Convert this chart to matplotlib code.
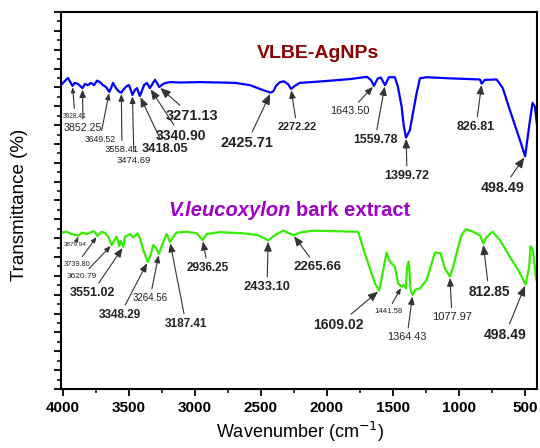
import numpy as np
import matplotlib
matplotlib.use('Agg')
import matplotlib.pyplot as plt
from matplotlib.ticker import MultipleLocator

plt.rcParams['font.family'] = ['Liberation Sans', 'DejaVu Sans']

# FTIR traces (wavenumber in cm-1, transmittance in arbitrary %)
agnp_wn = [4005, 3977, 3962, 3928, 3912, 3886, 3852, 3833, 3811, 3788, 3765, 3742, 3720,
           3697, 3674, 3649, 3636, 3621, 3598, 3576, 3558, 3538, 3515, 3500, 3486, 3474,
           3455, 3439, 3418, 3405, 3386, 3364, 3341, 3318, 3303, 3288, 3271, 3242, 3220,
           3189, 3114, 2962, 2811, 2697, 2583, 2523, 2485, 2426, 2405, 2386, 2356, 2326,
           2295, 2272, 2235, 2205, 2076, 1826, 1697, 1667, 1644, 1614, 1591, 1560, 1530,
           1485, 1462, 1434, 1417, 1400, 1371, 1348, 1320, 1295, 1245, 1068, 841, 827,
           803, 714, 667, 614, 563, 525, 498, 464, 442, 424, 402]
agnp_t = [81.0, 82.0, 82.5, 80.4, 81.2, 80.9, 79.8, 80.9, 80.6, 81.2, 80.6, 81.8, 81.4,
          80.6, 80.1, 78.8, 79.8, 81.2, 79.8, 78.9, 78.6, 79.6, 80.4, 80.6, 79.3, 78.0,
          79.3, 79.8, 77.7, 78.8, 80.6, 81.2, 79.8, 81.2, 82.0, 81.2, 80.1, 80.9, 81.2,
          81.4, 81.3, 81.4, 81.3, 81.2, 80.6, 79.8, 79.3, 78.6, 79.0, 80.4, 81.4, 81.6,
          80.9, 79.6, 80.6, 81.2, 81.5, 82.2, 82.8, 82.0, 80.4, 82.4, 82.6, 80.6, 82.7,
          82.7, 80.2, 74.9, 69.6, 66.7, 68.7, 73.2, 78.5, 82.4, 82.7, 82.4, 82.1, 81.0,
          82.0, 82.1, 79.8, 74.0, 68.7, 64.7, 61.7, 70.6, 75.9, 74.9, 68.2]

bark_wn = [4005, 3972, 3934, 3880, 3858, 3818, 3770, 3752, 3740, 3707, 3682, 3657, 3631,
           3614, 3593, 3573, 3561, 3543, 3530, 3492, 3467, 3437, 3417, 3392, 3358, 3336,
           3316, 3295, 3273, 3245, 3214, 3189, 3164, 3139, 3063, 2987, 2942, 2911, 2811,
           2634, 2520, 2445, 2394, 2331, 2255, 2205, 2104, 1763, 1725, 1687, 1636, 1604,
           1573, 1548, 1523, 1485, 1460, 1434, 1417, 1402, 1392, 1379, 1366, 1351, 1333,
           1295, 1245, 1207, 1182, 1139, 1106, 1068, 1043, 1005, 980, 947, 892, 841, 816,
           795, 745, 689, 614, 551, 513, 495, 467, 457, 439, 417, 402]
bark_t = [41.5, 41.7, 41.1, 40.7, 41.5, 41.1, 41.9, 41.4, 40.6, 41.7, 41.4, 40.4, 38.2,
          39.3, 40.4, 37.9, 39.3, 37.7, 40.4, 41.1, 40.2, 41.3, 40.0, 36.9, 33.7, 35.5,
          38.2, 37.4, 35.8, 38.6, 41.1, 39.0, 40.4, 41.5, 41.7, 41.3, 39.5, 41.1, 41.6,
          41.3, 40.8, 39.4, 40.8, 42.0, 40.8, 41.5, 42.0, 41.7, 37.3, 33.3, 28.0, 26.1,
          31.6, 36.2, 33.8, 32.4, 28.0, 27.1, 27.6, 26.7, 32.4, 33.8, 26.3, 24.9, 26.3,
          26.7, 28.9, 33.2, 36.2, 36.0, 32.0, 29.8, 32.4, 37.7, 40.8, 42.4, 41.7, 40.8, 38.6,
          40.1, 41.7, 39.5, 35.1, 31.6, 29.1, 27.7, 32.4, 37.9, 36.9, 29.8, 27.6]

agnp_peaks = ['3928.41', '3852.25', '3649.52', '3558.41', '3474.69', '3418.05', '3340.90',
              '3271.13', '2425.71', '2272.22', '1643.50', '1559.78', '1399.72', '826.81',
              '498.49']
bark_peaks = ['3879.94', '3739.80', '3620.79', '3551.02', '3348.29', '3264.56', '3187.41',
              '2936.25', '2433.10', '2265.66', '1609.02', '1441.58', '1364.43', '1077.97',
              '812.85', '498.49']

# label placement (figure pixels from top-left) and font size / weight
agnp_layout = [(75, 116, 4.8, 'normal'), (83, 128, 7.7, 'normal'), (100, 139, 6.2, 'normal'),
               (122, 149, 6.8, 'normal'), (134, 160, 6.8, 'normal'), (165, 149, 9.3, 'bold'),
               (181, 136, 10, 'bold'), (192, 116, 10.5, 'bold'), (247, 143, 10.5, 'bold'),
               (297, 127, 7.8, 'bold'), (350, 111, 7.8, 'normal'), (375, 140, 8.8, 'bold'),
               (407, 176, 9, 'bold'), (476, 127, 9, 'bold'), (503, 188, 10.3, 'bold')]
bark_layout = [(75, 244, 4.6, 'normal'), (77, 264, 5.3, 'normal'), (82, 276, 6, 'normal'),
               (92, 293, 9, 'bold'), (120, 315, 8.5, 'bold'), (150, 298, 7, 'normal'),
               (186, 324, 8.5, 'bold'), (208, 268, 8.5, 'bold'), (267, 287, 9.3, 'bold'),
               (317, 267, 9.5, 'bold'), (338, 325, 10, 'bold'), (388, 311, 5.6, 'normal'),
               (407, 337, 7.8, 'normal'), (452, 317, 8, 'normal'), (489, 292, 9.8, 'bold'),
               (505, 335, 10, 'bold')]

fig = plt.figure(figsize=(5.4, 4.48), dpi=100)
ax = fig.add_axes([61 / 540, 59 / 448, 476 / 540, 377 / 448])

ax.plot(agnp_wn, agnp_t, color='#0000ff', lw=1.6)
ax.plot(bark_wn, bark_t, color='#33ee00', lw=1.6)

ax.set_xlim(4015, 408)
ax.set_ylim(0, 100)
ax.xaxis.set_major_locator(MultipleLocator(500))
ax.xaxis.set_minor_locator(MultipleLocator(250))
ax.yaxis.set_major_locator(MultipleLocator(5))
ax.yaxis.set_minor_locator(MultipleLocator(2.5))
ax.tick_params(axis='both', which='major', direction='out', length=5, width=1.3)
ax.tick_params(axis='both', which='minor', direction='out', length=3, width=1.1)
ax.tick_params(axis='y', labelleft=False)
for lab in ax.get_xticklabels():
    lab.set_fontsize(11)
    lab.set_fontweight('bold')
for s in ax.spines.values():
    s.set_linewidth(1.5)


def annotate_peaks(wn, t, peaks, layout):
    wn = np.array(wn, dtype=float)
    t = np.array(t, dtype=float)
    for lab, (px, py, fs, fw) in zip(peaks, layout):
        v = float(lab)
        win = np.abs(wn - v) <= 20
        idx = np.where(win)[0][np.argmin(t[win])]
        ax.annotate(lab, xy=(wn[idx], t[idx]), xytext=(px, 448 - py),
                    textcoords='figure pixels', ha='center', va='center',
                    fontsize=fs, fontweight=fw, color='#222222',
                    arrowprops=dict(arrowstyle='-|>,head_length=0.6,head_width=0.25',
                                    color='#333333', lw=0.8, shrinkA=1, shrinkB=1))


annotate_peaks(agnp_wn, agnp_t, agnp_peaks, agnp_layout)
annotate_peaks(bark_wn, bark_t, bark_peaks, bark_layout)

fig.text(318 / 540, 1 - 53 / 448, 'VLBE-AgNPs', color='#8b0000', fontsize=14,
         fontweight='bold', ha='center', va='center')
fig.text(291 / 540, 1 - 210 / 448, 'V.leucoxylon', color='#a000c8', fontsize=14.5,
         fontweight='bold', style='italic', ha='right', va='center')
fig.text(296 / 540, 1 - 210 / 448, 'bark extract', color='#a000c8', fontsize=14.5,
         fontweight='bold', ha='left', va='center')

fig.text(300 / 540, 4 / 448, 'Wavenumber (cm$^{-1}$)', fontsize=13,
         ha='center', va='bottom')
fig.text(20 / 540, 1 - 205 / 448, 'Transmittance (%)', fontsize=13.5, rotation=90,
         ha='center', va='center')

plt.savefig('out.png', dpi=100)
